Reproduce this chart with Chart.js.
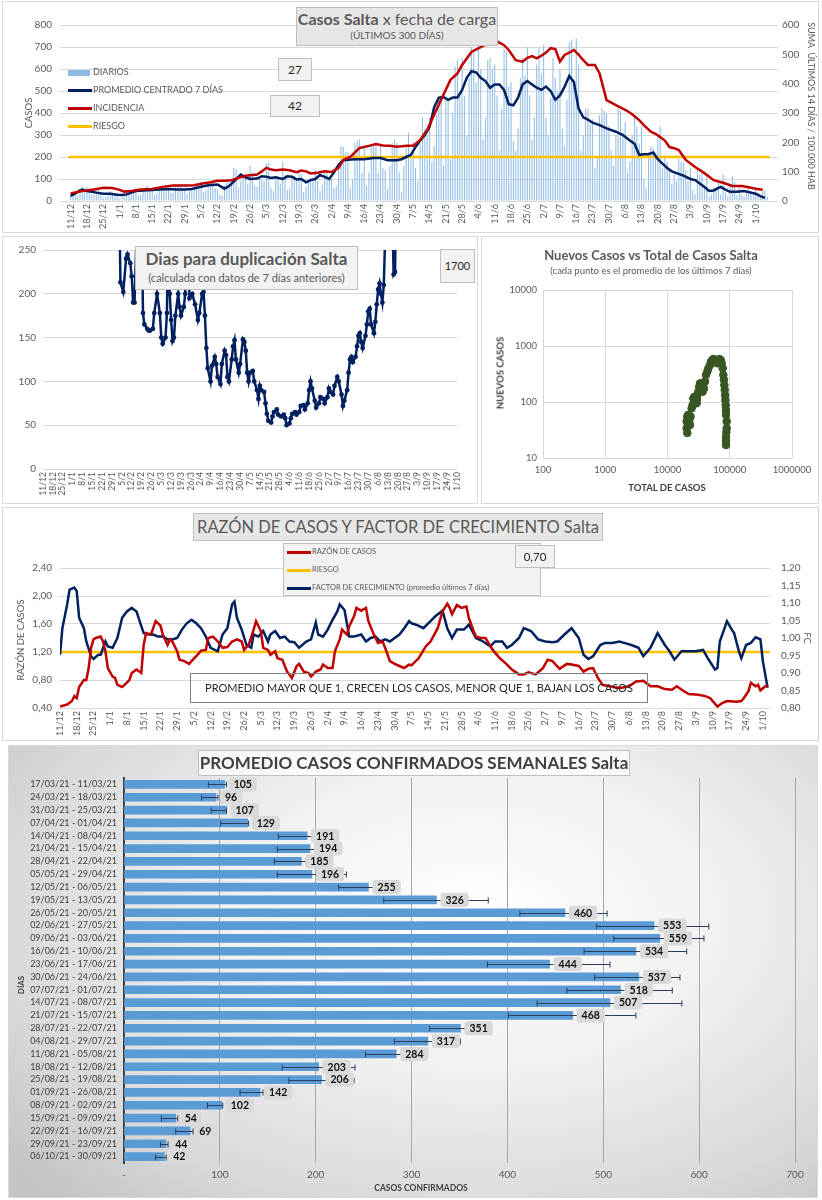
<!DOCTYPE html>
<html lang="es">
<head>
<meta charset="utf-8">
<title>Casos Salta</title>
<script src="https://cdn.jsdelivr.net/npm/chart.js@4.4.1/dist/chart.umd.min.js"></script>
<style>
  body { margin: 0; background: #fff; font-family: Lato, "Open Sans", sans-serif; }
  #page { position: relative; width: 822px; height: 1200px; overflow: hidden; }
  .panel { position: absolute; box-sizing: border-box; border: 1px solid #d9d9d9; background: #fff; }
  canvas { position: absolute; }
  .box { position: absolute; box-sizing: border-box; border: 1px solid #bfbfbf; background: #f2f2f2; color: #404040; text-align: center; white-space: nowrap; z-index: 5; }
  .t { position: absolute; color: #595959; white-space: nowrap; z-index: 5; transform: translate(-50%, -50%); }
  .t.up { transform: translate(-50%, -50%) rotate(-90deg); }
  .t.down { transform: translate(-50%, -50%) rotate(90deg); }
  .leg { position: absolute; z-index: 5; font-size: 9px; color: #595959; white-space: nowrap; line-height: 12px; }
  .leg i { display: inline-block; width: 24px; height: 3px; vertical-align: middle; margin-right: 1px; }
</style>
</head>
<body>
<div id="page">
  <div class="panel" style="left:2px;top:1px;width:817px;height:232px"></div>
  <div class="panel" style="left:2px;top:236px;width:476px;height:268px"></div>
  <div class="panel" style="left:481px;top:236px;width:338px;height:268px"></div>
  <div class="panel" style="left:2px;top:507px;width:817px;height:234px"></div>
  <div class="panel" style="left:8px;top:745px;width:810px;height:453px;background:radial-gradient(ellipse 75% 85% at 58% 38%, #ffffff 0%, #f1f1f1 40%, #d9d9d9 78%, #c4c4c4 100%)"></div>

  <canvas id="c1" width="822" height="233" style="left:0;top:0"></canvas>
  <canvas id="c2" width="478" height="268" style="left:0;top:237px"></canvas>
  <canvas id="c3" width="338" height="266" style="left:482px;top:237px"></canvas>
  <canvas id="c4" width="822" height="233" style="left:0;top:507px"></canvas>
  <canvas id="c5" width="810" height="453" style="left:8px;top:745px"></canvas>

  <!-- casos -->
  <div class="box" style="left:296px;top:7px;width:202px;height:39px;background:#e7e6e6;color:#595959">
    <div style="font-size:16px;line-height:20px;margin-top:1px"><b>Casos Salta</b> x fecha de carga</div>
    <div style="font-size:10px;line-height:13px">(ÚLTIMOS 300 DÍAS)</div>
  </div>
  <div class="box" style="left:278px;top:58px;width:34px;height:23px;font-size:12px;line-height:21px;color:#262626">27</div>
  <div class="box" style="left:270px;top:95px;width:50px;height:22px;font-size:12px;line-height:20px;color:#262626">42</div>
  <div class="leg" style="left:68px;top:66px"><i style="background:#8dbbe4;height:6px;width:22px;margin-right:3px"></i>DIARIOS</div>
  <div class="leg" style="left:68px;top:84px"><i style="background:#002060"></i>PROMEDIO CENTRADO 7 DÍAS</div>
  <div class="leg" style="left:68px;top:102px"><i style="background:#c00000"></i>INCIDENCIA</div>
  <div class="leg" style="left:68px;top:120px"><i style="background:#ffc000"></i>RIESGO</div>
  <div class="t up" style="left:28px;top:113px;font-size:9.5px">CASOS</div>
  <div class="t down" style="left:811px;top:106px;font-size:9px">SUMA&nbsp; ÚLTIMOS 14 DÍAS / 100.000 HAB</div>

  <!-- duplicacion -->
  <div class="box" style="left:135px;top:246px;width:223px;height:44px;color:#595959">
    <div style="font-size:17px;font-weight:bold;line-height:24px">Dias para duplicación Salta</div>
    <div style="font-size:11px;line-height:14px">(calculada con datos de 7 días anteriores)</div>
  </div>
  <div class="box" style="left:440px;top:249px;width:35px;height:34px;font-size:11px;line-height:32px;color:#262626">1700</div>

  <!-- nuevos vs total -->
  <div class="t" style="left:651px;top:255px;font-size:13px;font-weight:bold">Nuevos Casos vs Total de Casos Salta</div>
  <div class="t" style="left:651px;top:270px;font-size:9.5px">(cada punto es el promedio de los últimos 7 días)</div>
  <div class="t up" style="left:500px;top:373px;font-size:9.5px;font-weight:bold;color:#404040">NUEVOS CASOS</div>
  <div class="t" style="left:667px;top:487px;font-size:9.5px;font-weight:bold;color:#404040">TOTAL DE CASOS</div>

  <!-- razon -->
  <div class="box" style="left:193px;top:513px;width:410px;height:28px;background:#e7e6e6;color:#595959;font-size:16.5px;line-height:26px">RAZÓN DE CASOS Y FACTOR DE CRECIMIENTO Salta</div>
  <div class="box" style="left:283px;top:543px;width:258px;height:53px"></div>
  <div class="leg" style="left:287px;top:546px;font-size:7.5px"><i style="background:#c00000"></i>RAZÓN DE CASOS</div>
  <div class="leg" style="left:287px;top:564px;font-size:7.5px"><i style="background:#ffc000"></i>RIESGO</div>
  <div class="leg" style="left:287px;top:582px;font-size:7.5px"><i style="background:#002060"></i>FACTOR DE CRECIMIENTO (promedio últimos 7 días)</div>
  <div class="box" style="left:515px;top:545px;width:40px;height:23px;font-size:11.5px;line-height:21px;color:#262626">0,70</div>
  <div class="box" style="left:190px;top:673px;width:458px;height:30px;background:transparent;border-color:#7f7f7f;font-size:11px;line-height:28px;color:#262626">PROMEDIO MAYOR QUE 1, CRECEN LOS CASOS, MENOR QUE 1, BAJAN LOS CASOS</div>
  <div class="t up" style="left:20px;top:640px;font-size:9.5px">RAZÓN DE CASOS</div>
  <div class="t down" style="left:807px;top:638px;font-size:9.5px">FC</div>

  <!-- semanales -->
  <div class="box" style="left:198px;top:750px;width:432px;height:26px;background:rgba(255,255,255,0.7);color:#404040;font-size:17px;font-weight:bold;line-height:24px">PROMEDIO CASOS CONFIRMADOS SEMANALES Salta</div>
  <div class="t up" style="left:21px;top:985px;font-size:8px;font-weight:bold;color:#404040">DÍAS</div>
  <div class="t" style="left:421px;top:1188px;font-size:8.5px;font-weight:bold;color:#404040">CASOS CONFIRMADOS</div>
</div>

<script>
var fechas = ['11/12','18/12','25/12','1/1','8/1','15/1','22/1','29/1','5/2','12/2','19/2','26/2','5/3','12/3','19/3','26/3',
  '2/4','9/4','16/4','23/4','30/4','7/5','14/5','21/5','28/5','4/6','11/6','18/6','25/6','2/7','9/7','16/7','23/7','30/7',
  '6/8','13/8','20/8','27/8','3/9','10/9','17/9','24/9','1/10'];

// casos diarios desde 11/12 (una semana por linea)
var diarios = [
  30, 42, 35, 22, 48, 62, 58,
  65, 50, 28, 30, 52, 58, 40,
  15, 20, 25, 45, 40, 35, 38,
  10, 18, 30, 42, 38, 35, 40,
  60, 25, 30, 55, 62, 70, 50,
  55, 30, 35, 60, 65, 58, 62,
  60, 35, 40, 65, 70, 75, 55,
  50, 30, 45, 65, 60, 80, 55,
  85, 40, 50, 80, 90, 85, 60,
  50, 30, 25, 70, 95, 85, 100,
  150, 145, 60, 90, 120, 110, 80,
  160, 130, 70, 65, 110, 100, 90,
  170, 175, 60, 45, 110, 100, 80,
  180, 120, 50, 60, 110, 115, 100,
  130, 120, 40, 65, 95, 105, 90,
  140, 90, 45, 75, 130, 140, 110,
  100, 60, 70, 160, 250, 245, 220,
  220, 60, 100, 265, 275, 280, 130,
  250, 70, 130, 250, 250, 260, 130,
  260, 150, 140, 55, 160, 265, 280,
  265, 130, 40, 160, 250, 310, 210,
  270, 150, 90, 260, 380, 330, 300,
  380, 180, 250, 390, 470, 480, 160,
  470, 460, 190, 400, 610, 640, 490,
  650, 480, 300, 560, 700, 690, 540,
  730, 600, 280, 380, 640, 650, 600,
  620, 480, 230, 420, 690, 680, 520,
  540, 270, 230, 330, 560, 650, 570,
  700, 480, 280, 380, 620, 700, 580,
  710, 380, 300, 470, 650, 560, 500,
  600, 330, 250, 460, 720, 730, 550,
  740, 620, 230, 300, 420, 420, 350,
  370, 150, 200, 390, 420, 410, 400,
  340, 230, 160, 300, 420, 410, 310,
  360, 130, 180, 300, 390, 340, 260,
  340, 100, 60, 220, 250, 240, 220,
  300, 340, 150, 210, 180, 140, 80,
  120, 90, 190, 180, 175, 140, 90,
  150, 50, 30, 140, 120, 140, 70,
  110, 20, 30, 60, 50, 90, 30,
  120, 40, 20, 70, 115, 85, 25,
  70, 30, 20, 50, 65, 45, 30,
  60, 20, 15, 45, 50, 20
];

var promDia = [0,2,4,5,7,9,11,14,17,20,22,24,26,28,31,35,38,42,45,49,52,56,59,63,66,68,70,72,73,75,77,80,82,84,86,88,91,93,95,97,
  99,101,103,105,107,109,111,113,115,117,119,122,126,130,133,136,140,142,144,146,148,150,152,154,156,158,160,162,164,166,
  168,170,172,174,176,178,180,182,184,186,188,190,192,194,196,198,200,202,204,206,208,210,212,214,216,218,220,222,224,227,
  230,234,237,240,242,244,246,248,250,252,254,256,258,260,263,266,268,270,272,274,276,278,279,281,283,286,289,292,294,296,298];
var promVal = [23,35,48,52,45,42,38,33,33,28,27,30,38,45,48,50,52,55,52,52,55,65,72,75,56,68,88,110,120,108,100,102,112,110,105,108,100,112,110,98,
  100,85,95,100,118,110,100,130,165,185,188,190,190,195,195,185,185,190,200,210,245,275,300,335,425,470,473,460,470,470,
  505,560,590,585,560,545,515,530,530,505,440,435,470,530,545,530,515,505,520,500,460,480,520,568,540,420,380,370,356,345,
  330,315,300,275,260,210,212,213,220,190,170,150,135,127,115,100,95,80,64,46,48,60,64,52,42,42,45,38,33,22,14];

// incidencia: suma 14 dias / 100.000 hab (eje derecho)
var incDia = [0,5,10,14,18,21,23,26,30,35,40,44,49,53,56,60,63,66,69,72,75,78,80,82,84,86,88,91,94,97,99,101,103,106,109,112,115,117,120,124,
  128,131,134,137,140,144,147,150,153,157,160,163,166,168,172,177,180,183,186,188,191,194,196,198,200,202,204,206,208,210,
  212,214,216,218,220,222,225,227,230,234,238,241,244,246,249,251,253,255,257,259,261,264,268,272,276,280,284,288,291,294,297];
var incVal = [26,34,39,45,44,38,32,34,39,41,49,53,53,54,59,64,69,69,71,79,86,89,90,101,113,107,105,107,105,98,104,101,94,96,101,99,113,140,150,181,
  188,194,189,188,185,188,188,208,242,311,362,413,435,464,508,529,539,544,531,515,480,475,488,494,486,495,506,521,518,475,
  498,506,515,499,480,464,464,435,344,327,311,296,276,259,236,229,218,206,184,180,174,140,116,95,71,62,51,51,47,42,38];
var riesgoCasos = 200;
var ticksCasos = [0, 100, 200, 300, 400, 500, 600, 700, 800];
var ticksIncid = [0, 100, 200, 300, 400, 500, 600];

var dupDia = [54,55,57,59,60,62,63,64,65,67,70,71,72,74,75,76,78,79,81,83,84,85,87,88,89,90,91,92,93,94,96,97,98,100,101,102,103,104,106,108,
  110,111,113,114,115,116,117,119,120,122,123,124,126,127,129,130,131,132,134,135,136,137,139,140,142,143,144,145,146,147,
  149,150,152,153,154,155,157,158,159,160,162,163,164,166,167,169,171,172,173,175,176,177,179,180,182,183,185,186,188,189,
  190,191,193,194,196,197,199,200,202,203,204,206,207,209,210,212,213,214,216,217,218,219,220,222,223,224,225,226,227,229,
  230,231,232,233,235,236,237,238,239,240,241,242,244,245,248,249,250,251,253];
var dupVal = [320,213,202,240,245,235,220,190,190,300,300,178,165,160,158,158,160,178,200,178,150,143,150,178,280,200,170,146,150,175,200,185,175,185,200,280,290,195,200,188,
  170,178,200,202,175,138,115,100,118,128,120,105,97,120,135,130,105,100,125,140,147,125,110,120,148,145,135,110,100,110,
  112,100,90,80,95,90,88,75,63,55,53,60,65,68,62,60,62,58,50,52,58,63,65,62,65,72,73,68,75,90,
  100,92,78,70,75,82,80,75,82,92,88,85,95,105,100,85,72,78,90,110,125,128,122,128,140,152,155,145,138,152,
  165,180,183,165,155,168,188,205,212,200,190,210,320,500,300,222,225,350,900];
var ticksDup = [0, 50, 100, 150, 200, 250];

var totalCasos = [20800,20300,20300,20800,21600,22400,23000,23500,24400,25300,26000,27000,27700,28700,29400,29800,30200,31300,32400,33300,
  34100,35400,36700,38500,40000,41500,43600,45300,48200,50000,52500,54500,58000,60100,63100,65500,67900,71600,74300,77100,
  78900,80500,81900,83000,84000,85000,86100,86700,87100,89300,89300,88200,87100,87100,87100];
var nuevosCasos = [28,34,45,55,59,48,39,55,77,88,116,124,101,116,95,113,133,153,188,215,
  201,175,153,175,231,304,348,399,458,525,562,586,562,525,491,540,586,562,491,399,
  304,250,201,165,133,108,88,72,59,45,34,29,24,20,17];
var ejeTotal = [100, 1000, 10000, 100000, 1000000];
var ejeNuevos = [10, 100, 1000, 10000];

var razonDia = [0,3,5,6,7,8,10,11,12,13,14,15,17,18,19,20,22,23,24,26,27,29,30,32,34,35,36,38,39,40,42,43,45,46,47,49,50,52,54,55,
  57,59,61,62,64,66,68,70,72,74,76,77,79,81,82,84,85,87,88,90,91,93,95,97,99,100,102,104,105,107,109,110,112,114,115,117,118,120,121,123,
  124,126,128,129,131,133,135,136,138,140,142,144,146,147,150,153,155,158,160,162,163,164,166,168,170,171,173,174,176,178,
  181,184,187,189,192,194,196,199,202,204,206,209,212,214,217,219,221,223,225,227,230,233,235,238,241,244,247,250,253,256,
  258,261,263,267,270,272,275,277,279,283,285,286,288,289,291,292,293,295,296];
var razonVal = [0.42,0.45,0.50,0.57,0.54,0.70,0.80,0.80,0.97,1.26,1.38,1.40,1.42,1.35,1.21,0.97,0.85,0.83,0.73,0.70,
  0.73,0.80,0.90,0.95,0.90,1.30,1.47,1.45,1.54,1.64,1.58,1.45,1.30,1.38,1.35,1.21,1.09,1.07,1.03,1.07,
  1.14,1.22,1.23,1.40,1.42,1.35,1.26,1.27,1.35,1.38,1.35,1.23,1.31,1.52,1.64,1.50,1.26,1.23,1.16,1.21,
  1.11,1.09,0.92,0.83,1.00,1.03,0.92,0.90,0.85,0.92,0.95,1.02,0.97,0.97,1.21,1.38,1.52,1.45,1.57,1.71,
  1.83,1.79,1.83,1.64,1.47,1.33,1.35,1.26,1.07,1.03,1.00,0.97,1.02,1.01,1.11,1.28,1.35,1.54,1.78,1.89,
  1.83,1.74,1.87,1.83,1.85,1.69,1.50,1.42,1.40,1.40,1.23,1.11,1.02,0.95,0.88,0.88,0.91,0.88,0.97,1.09,
  1.07,0.96,1.03,1.02,1.00,0.92,0.96,0.97,0.83,0.73,0.71,0.69,0.69,0.71,0.78,0.79,0.71,0.71,0.67,0.66,
  0.71,0.64,0.60,0.59,0.57,0.54,0.42,0.47,0.50,0.49,0.50,0.54,0.64,0.76,0.71,0.73,0.65,0.71,0.71];

// factor de crecimiento (eje derecho FC)
var fcDia = [0,1,3,4,6,7,8,10,11,13,14,16,17,19,20,22,24,26,28,30,32,34,35,37,39,41,43,45,47,49,51,53,55,57,59,61,63,66,68,70,
  72,73,74,76,78,80,81,83,85,87,88,90,92,94,96,98,100,103,105,107,108,110,112,114,116,117,119,120,121,123,
  126,128,130,132,134,136,138,140,142,144,146,147,149,152,155,157,160,162,164,166,169,171,174,177,180,182,185,187,189,192,
  194,197,200,203,206,208,211,214,217,219,221,223,226,228,231,234,236,239,242,244,247,248,250,253,255,257,260,263,266,269,
  271,274,275,276,278,279,281,282,284,285,287,289,291,293,294,296];
var fcVal = [0.952,1.028,1.096,1.138,1.144,1.134,1.058,1.028,0.99,0.948,0.94,0.952,0.952,0.99,0.976,0.972,1.00,1.058,1.076,1.086,
  1.076,1.034,1.014,1.01,1.01,1.004,1.004,0.996,0.996,1.00,1.024,1.042,1.052,1.042,1.028,1.004,0.972,0.962,1.01,1.028,
  1.096,1.104,1.058,1.024,0.98,0.972,1.01,1.004,1.02,0.99,1.01,1.02,1.00,1.004,0.99,0.988,0.972,0.99,0.996,1.044,
  1.01,1.004,1.024,1.052,1.076,1.096,1.08,1.042,1.004,1.004,1.01,0.99,1.00,1.004,0.99,0.996,0.99,1.00,1.01,1.028,
  1.048,1.042,1.038,1.028,1.048,1.062,1.078,1.028,1.00,1.024,1.024,1.038,1.00,0.99,0.976,0.99,0.99,0.972,0.98,1.00,
  1.028,1.02,0.996,0.99,0.988,0.99,1.01,1.028,1.00,0.952,0.94,0.948,0.98,0.986,0.986,0.99,0.986,0.98,0.972,0.948,
  0.972,0.986,1.014,0.98,0.962,0.938,0.962,0.962,0.962,0.966,0.942,0.91,0.914,0.99,1.028,1.048,1.024,1.014,0.962,0.942,
  0.98,0.986,1.002,0.996,0.934,0.858];
var riesgoRazon = 1.2;
var ticksRazon = [0.40, 0.60, 0.80, 1.00, 1.20, 1.40, 1.60, 1.80, 2.00, 2.20, 2.40];
var ticksFC = [0.80, 0.85, 0.90, 0.95, 1.00, 1.05, 1.10, 1.15, 1.20];

var semanas = ['17/03/21 - 11/03/21','24/03/21 - 18/03/21','31/03/21 - 25/03/21','07/04/21 - 01/04/21','14/04/21 - 08/04/21',
  '21/04/21 - 15/04/21','28/04/21 - 22/04/21','05/05/21 - 29/04/21','12/05/21 - 06/05/21','19/05/21 - 13/05/21',
  '26/05/21 - 20/05/21','02/06/21 - 27/05/21','09/06/21 - 03/06/21','16/06/21 - 10/06/21','23/06/21 - 17/06/21',
  '30/06/21 - 24/06/21','07/07/21 - 01/07/21','14/07/21 - 08/07/21','21/07/21 - 15/07/21','28/07/21 - 22/07/21',
  '04/08/21 - 29/07/21','11/08/21 - 05/08/21','18/08/21 - 12/08/21','25/08/21 - 19/08/21','01/09/21 - 26/08/21',
  '08/09/21 - 02/09/21','15/09/21 - 09/09/21','22/09/21 - 16/09/21','29/09/21 - 23/09/21','06/10/21 - 30/09/21'];
var promedios = [105, 96, 107, 129, 191, 194, 185, 196, 255, 326, 460, 553, 559, 534, 444, 537, 518, 507, 468, 351, 317, 284, 203, 206, 142, 102, 54, 69, 44, 42];
var errMin = [88, 81, 91, 101, 161, 160, 157, 160, 224, 271, 413, 493, 511, 480, 379, 491, 462, 431, 401, 319, 282, 252, 165, 172, 121, 87, 39, 54, 38, 33];
var errMax = [107, 98, 107, 130, 221, 227, 190, 232, 286, 380, 504, 610, 605, 587, 507, 580, 572, 582, 534, 381, 351, 316, 241, 240, 145, 103, 56, 72, 46, 44];
var ticksSemanal = [0, 100, 200, 300, 400, 500, 600, 700];

Chart.defaults.font.family = "Lato, 'Open Sans', sans-serif";
Chart.defaults.color = '#595959';
Chart.defaults.animation = false;
Chart.defaults.plugins.legend.display = false;
Chart.defaults.plugins.tooltip.enabled = false;

function pares(xs, ys) { return xs.map(function (x, i) { return { x: x, y: ys[i] }; }); }
function fijo(lista) { return function (s) { s.ticks = lista.map(function (v) { return { value: v }; }); }; }
function ancho(w) { return function (s) { s.width = w; }; }
function alto(h) { return function (s) { s.height = h; }; }
function coma(v) { return v.toFixed(2).replace('.', ','); }
var diasTicks = fechas.map(function (f, i) { return i * 7; });
function fechaTick(v) { return fechas[Math.round(v / 7)]; }
function ejeFechas(max, h, size) {
  return { type: 'linear', min: 0, max: max, afterBuildTicks: fijo(diasTicks), afterFit: alto(h),
    grid: { display: false, drawTicks: false }, border: { display: false },
    ticks: { autoSkip: false, minRotation: 90, maxRotation: 90, padding: 3, font: { size: size }, callback: fechaTick } };
}
function linea(puntos, color, eje, orden) {
  return { type: 'line', data: puntos, yAxisID: eje, borderColor: color, borderWidth: 2.5, pointRadius: 0, order: orden };
}

// 1. casos por fecha de carga
var ejeX1 = ejeFechas(300, 32, 9);
ejeX1.min = -1;
new Chart(document.getElementById('c1'), {
  type: 'bar',
  data: { datasets: [
    linea(pares(incDia, incVal), '#c00000', 'y1', 1),
    linea(pares(promDia, promVal), '#002060', 'y', 2),
    linea([{ x: -1, y: riesgoCasos }, { x: 300, y: riesgoCasos }], '#ffc000', 'y', 3),
    { type: 'bar', data: diarios.map(function (v, i) { return { x: i, y: v }; }), yAxisID: 'y',
      backgroundColor: '#8fbce5', barPercentage: 0.45, categoryPercentage: 1, order: 4 }
  ] },
  options: {
    responsive: false,
    layout: { padding: { top: 25 } },
    scales: {
      x: ejeX1,
      y: { min: 0, max: 800, afterBuildTicks: fijo(ticksCasos), afterFit: ancho(60),
        grid: { color: '#d9d9d9', drawTicks: false }, border: { display: false }, ticks: { font: { size: 10 }, padding: 8 } },
      y1: { position: 'right', min: 0, max: 600, afterBuildTicks: fijo(ticksIncid), afterFit: ancho(44),
        grid: { display: false, drawTicks: false }, border: { display: false }, ticks: { font: { size: 10 }, padding: 4 } }
    }
  }
});

// 2. dias para duplicacion
new Chart(document.getElementById('c2'), {
  type: 'line',
  data: { datasets: [{ data: pares(dupDia, dupVal), borderColor: '#002060', backgroundColor: '#002060',
    borderWidth: 2.5, pointRadius: 2.4, pointBorderWidth: 0 }] },
  options: {
    responsive: false,
    layout: { padding: { top: 10, right: 21 } },
    scales: {
      x: ejeFechas(294, 36, 8.5),
      y: { min: 0, max: 250, afterBuildTicks: fijo(ticksDup), afterFit: ancho(43),
        grid: { color: '#d9d9d9', drawTicks: false }, border: { display: false }, ticks: { font: { size: 10 }, padding: 7 } }
    }
  }
});

// 3. nuevos vs total (log)
new Chart(document.getElementById('c3'), {
  type: 'scatter',
  data: { datasets: [{ data: pares(totalCasos, nuevosCasos), backgroundColor: '#375623', borderColor: '#375623', pointRadius: 3.8 }] },
  options: {
    responsive: false,
    layout: { padding: { top: 53, right: 28 } },
    scales: {
      x: { type: 'logarithmic', min: 100, max: 1000000, afterBuildTicks: fijo(ejeTotal), afterFit: alto(45),
        grid: { color: '#d9d9d9', drawTicks: false }, border: { display: false },
        ticks: { maxRotation: 0, padding: 6, font: { size: 9.5 }, callback: function (v) { return String(v); } } },
      y: { type: 'logarithmic', min: 10, max: 10000, afterBuildTicks: fijo(ejeNuevos), afterFit: ancho(61),
        grid: { color: '#d9d9d9', drawTicks: false }, border: { display: false },
        ticks: { padding: 6, font: { size: 9.5 }, callback: function (v) { return String(v); } } }
    }
  }
});

// 4. razon de casos y factor de crecimiento
new Chart(document.getElementById('c4'), {
  type: 'line',
  data: { datasets: [
    linea(pares(razonDia, razonVal), '#c00000', 'y', 1),
    linea(pares(fcDia, fcVal), '#002060', 'y1', 2),
    linea([{ x: 0, y: riesgoRazon }, { x: 297, y: riesgoRazon }], '#ffc000', 'y', 3)
  ] },
  options: {
    responsive: false,
    layout: { padding: { top: 61 } },
    scales: {
      x: ejeFechas(297, 32, 9),
      y: { min: 0.4, max: 2.4, afterBuildTicks: fijo(ticksRazon), afterFit: ancho(60),
        grid: { color: '#d9d9d9', drawTicks: false }, border: { display: false },
        ticks: { font: { size: 10 }, padding: 8, callback: coma } },
      y1: { position: 'right', min: 0.8, max: 1.2, afterBuildTicks: fijo(ticksFC), afterFit: ancho(52),
        grid: { display: false, drawTicks: false }, border: { display: false },
        ticks: { font: { size: 10 }, padding: 11, callback: coma } }
    }
  }
});

// 5. promedio semanal con barras de error y etiquetas
var extras = {
  id: 'extras',
  afterDatasetsDraw: function (chart) {
    var ctx = chart.ctx, sx = chart.scales.x, sy = chart.scales.y;
    ctx.save();
    ctx.strokeStyle = '#2b3f5c';
    ctx.lineWidth = 1;
    promedios.forEach(function (v, i) {
      var y = Math.round(sy.getPixelForValue(i)) + 0.5;
      var a = sx.getPixelForValue(errMin[i]), b = sx.getPixelForValue(errMax[i]);
      ctx.beginPath();
      ctx.moveTo(a, y); ctx.lineTo(b, y);
      ctx.moveTo(a, y - 3); ctx.lineTo(a, y + 3);
      ctx.moveTo(b, y - 3); ctx.lineTo(b, y + 3);
      ctx.stroke();
    });
    ctx.font = "bold 10.5px Lato, 'Open Sans', sans-serif";
    ctx.textBaseline = 'middle';
    promedios.forEach(function (v, i) {
      var y = sy.getPixelForValue(i), x = sx.getPixelForValue(v) + 4;
      var t = String(v), w = ctx.measureText(t).width + 10;
      ctx.fillStyle = '#d9d9d9';
      ctx.beginPath();
      ctx.roundRect(x, y - 7, w, 14, 3);
      ctx.fill();
      ctx.fillStyle = '#111';
      ctx.fillText(t, x + 5, y + 0.5);
    });
    ctx.restore();
  }
};

new Chart(document.getElementById('c5'), {
  type: 'bar',
  data: { labels: semanas, datasets: [{ data: promedios, backgroundColor: '#5b9bd5', barThickness: 8 }] },
  options: {
    indexAxis: 'y',
    responsive: false,
    layout: { padding: { top: 33, right: 23 } },
    scales: {
      x: { min: 0, max: 700, afterBuildTicks: fijo(ticksSemanal), afterFit: alto(35),
        grid: { color: '#a6a6a6', drawTicks: false }, border: { display: false },
        ticks: { padding: 6, font: { size: 10 }, callback: function (v) { return v === 0 ? '-' : v; } } },
      y: { afterFit: ancho(116), grid: { display: false, drawTicks: false }, border: { display: true, color: '#404040', width: 2 },
        ticks: { padding: 7, autoSkip: false, color: '#404040', font: { size: 9 } } }
    }
  },
  plugins: [extras]
});
</script>
</body>
</html>
